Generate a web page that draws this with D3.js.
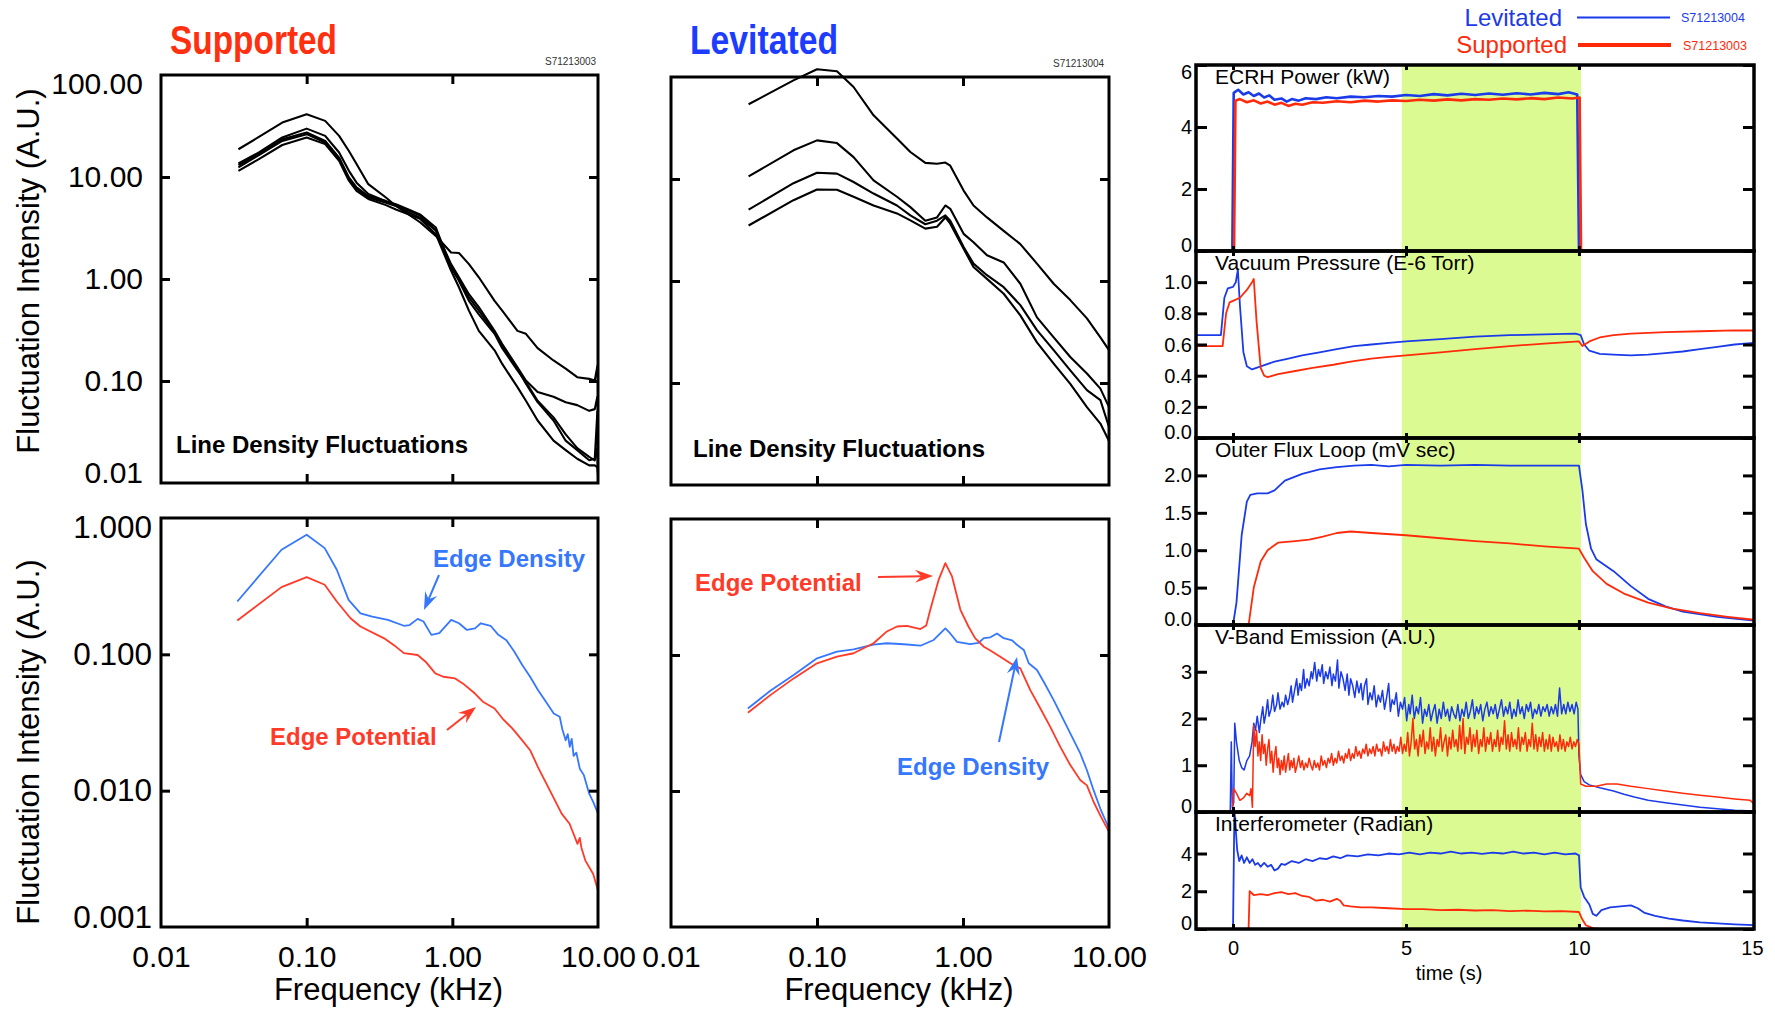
<!DOCTYPE html>
<html>
<head>
<meta charset="utf-8">
<script src="https://cdn.jsdelivr.net/npm/d3@7"></script>
<style>
  body { margin: 0; background: #fff; }
  svg { display: block; font-family: "Liberation Sans", Arial, Helvetica, sans-serif; }
</style>
</head>
<body>
<svg id="chart" width="1775" height="1011"></svg>
<script>
// ---------- line density spectra (kHz, A.U.) ----------
var freqSupported = [0.034, 0.047, 0.068, 0.1, 0.134, 0.167, 0.195, 0.22, 0.265, 0.35, 0.41, 0.5, 0.6, 0.77, 0.98,
                     1.11, 1.3, 1.52, 1.95, 2.2, 2.8, 3.2, 3.85, 4.95, 6.0, 7.2, 8.7, 9.5, 9.9, 10.0];
var densitySupported = [
    [18.7, 24.7, 34.2, 41.2, 35.5, 25.3, 18.0, 13.4, 8.5, 6.3, 5.2, 4.3, 3.6, 2.65, 1.82, 1.80, 1.40, 1.04, 0.61, 0.49, 0.31, 0.29, 0.21, 0.159, 0.132, 0.109, 0.105, 0.101, 0.14, 0.095],
    [13.6, 17.4, 24.4, 29.8, 25.3, 17.4, 11.5, 8.8, 6.8, 5.8, 5.3, 4.5, 4.0, 3.0, 1.40, 1.04, 0.71, 0.53, 0.31, 0.23, 0.136, 0.101, 0.078, 0.070, 0.062, 0.058, 0.051, 0.053, 0.07, 0.048],
    [13.1, 16.7, 23.5, 27.3, 22.6, 15.5, 9.9, 7.9, 6.5, 5.8, 5.4, 4.8, 4.3, 3.2, 1.30, 0.96, 0.61, 0.45, 0.29, 0.21, 0.127, 0.0975, 0.064, 0.044, 0.030, 0.022, 0.018, 0.0167, 0.022, 0.014],
    [12.4, 16.4, 22.6, 26.3, 21.8, 15.0, 9.5, 7.7, 6.3, 5.6, 5.2, 4.7, 4.2, 3.0, 1.35, 1.0, 0.66, 0.49, 0.30, 0.22, 0.132, 0.094, 0.062, 0.041, 0.026, 0.021, 0.0167, 0.0173, 0.05, 0.013],
    [11.5, 15.0, 20.6, 24.4, 21.0, 14.4, 9.2, 7.3, 6.1, 5.3, 4.8, 4.3, 3.9, 2.75, 1.21, 0.83, 0.49, 0.31, 0.20, 0.147, 0.087, 0.064, 0.041, 0.026, 0.021, 0.0173, 0.0149, 0.0149, 0.0143, 0.012]
];
var freqLevitated = [0.034, 0.069, 0.1, 0.137, 0.178, 0.244, 0.353, 0.436, 0.552, 0.664, 0.757, 0.818, 1.01, 1.18,
                     1.46, 1.9, 2.47, 3.21, 4.18, 5.43, 7.06, 8.73, 10.0];
var densityLevitated = [
    [54, 92.7, 119, 114, 79.8, 42.1, 24.9, 18.4, 14.4, 14.1, 14.5, 13.5, 7.7, 5.5, 4.2, 3.1, 2.3, 1.48, 0.94, 0.65, 0.43, 0.28, 0.21],
    [10.6, 19.1, 23.9, 22.5, 16.4, 9.7, 6.7, 5.3, 3.9, 4.2, 5.5, 5.1, 2.9, 2.4, 1.79, 1.52, 0.94, 0.44, 0.28, 0.18, 0.124, 0.088, 0.058],
    [5.0, 9.1, 11.5, 11.3, 9.35, 7.2, 5.5, 4.4, 3.6, 3.9, 4.4, 3.9, 2.15, 1.48, 1.14, 0.87, 0.58, 0.33, 0.21, 0.133, 0.085, 0.068, 0.037],
    [3.5, 6.2, 7.9, 7.85, 6.7, 5.5, 4.6, 3.93, 3.26, 3.4, 4.2, 3.65, 2.07, 1.37, 1.05, 0.75, 0.46, 0.25, 0.155, 0.098, 0.058, 0.040, 0.027]
];

// ---------- edge probe spectra [kHz, A.U.] ----------
var edgeDensitySupported = [[0.0334, 0.244], [0.0672, 0.585], [0.1, 0.754], [0.133, 0.601], [0.161, 0.417], [0.194, 0.251],
    [0.234, 0.200], [0.282, 0.189], [0.361, 0.179], [0.465, 0.162], [0.509, 0.164], [0.578, 0.182], [0.634, 0.174],
    [0.718, 0.139], [0.814, 0.143], [0.982, 0.179], [1.11, 0.169], [1.26, 0.151], [1.43, 0.155], [1.57, 0.169],
    [1.83, 0.162], [2.07, 0.139], [2.35, 0.127], [2.66, 0.105], [3.02, 0.0835], [3.42, 0.0685], [3.87, 0.0547],
    [4.39, 0.0449], [4.97, 0.0368], [5.46, 0.0348], [5.7, 0.028], [6.0, 0.0234], [6.2, 0.026], [6.4, 0.021],
    [6.6, 0.024], [6.8, 0.018], [7.1, 0.019], [7.5, 0.0145], [8.0, 0.013], [8.7, 0.0095], [9.3, 0.0082], [10.0, 0.0068]];
var edgePotentialSupported = [[0.0334, 0.177], [0.0672, 0.311], [0.1, 0.368], [0.133, 0.324], [0.161, 0.244], [0.2, 0.184],
    [0.234, 0.160], [0.34, 0.131], [0.409, 0.114], [0.465, 0.102], [0.578, 0.0989], [0.655, 0.0883], [0.764, 0.0725],
    [0.867, 0.0685], [1.045, 0.0666], [1.18, 0.0612], [1.43, 0.0516], [1.62, 0.0449], [1.95, 0.0401], [2.21, 0.0338],
    [2.58, 0.0286], [3.02, 0.0234], [3.42, 0.0198], [3.87, 0.0149], [4.67, 0.01005], [5.63, 0.00678], [6.38, 0.00572],
    [7.23, 0.00407], [7.5, 0.0045], [7.7, 0.0038], [8.19, 0.00307], [9.27, 0.00245], [10.0, 0.00185]];
var edgeDensityLevitated = [[0.0336, 0.0404], [0.0479, 0.0546], [0.0692, 0.0713], [0.1, 0.0945], [0.137, 0.106],
    [0.178, 0.110], [0.244, 0.119], [0.301, 0.122], [0.393, 0.120], [0.511, 0.117], [0.63, 0.129], [0.757, 0.157],
    [0.818, 0.144], [0.91, 0.125], [1.12, 0.120], [1.28, 0.123], [1.39, 0.133], [1.54, 0.135], [1.71, 0.144],
    [1.9, 0.133], [2.17, 0.128], [2.34, 0.119], [2.61, 0.109], [2.82, 0.0869], [3.21, 0.0775], [3.57, 0.0636],
    [4.18, 0.0466], [4.64, 0.0372], [5.43, 0.0265], [6.37, 0.0188], [7.06, 0.0142], [7.85, 0.0101], [8.73, 0.0074],
    [10.0, 0.0053]];
var edgePotentialLevitated = [[0.0336, 0.0376], [0.0479, 0.0507], [0.0692, 0.0673], [0.1, 0.0869], [0.137, 0.0972],
    [0.178, 0.103], [0.244, 0.122], [0.301, 0.149], [0.353, 0.162], [0.413, 0.164], [0.511, 0.155], [0.56, 0.165],
    [0.597, 0.215], [0.681, 0.357], [0.757, 0.474], [0.841, 0.378], [0.96, 0.215], [1.09, 0.162], [1.21, 0.133],
    [1.39, 0.115], [1.54, 0.108], [1.8, 0.0972], [2.11, 0.0869], [2.47, 0.0798], [2.89, 0.0552], [3.39, 0.0404],
    [3.96, 0.0296], [4.64, 0.0211], [5.43, 0.0155], [6.37, 0.0120], [7.06, 0.0110], [7.85, 0.0083], [8.73, 0.0066],
    [10.0, 0.0050]];

var freqTicks = [0.01, 0.1, 1, 10];
var densityTicks = [100, 10, 1, 0.1, 0.01];
var edgeTicks = [1, 0.1, 0.01, 0.001];

// ---------- time traces [s, value] ----------
var ecrhLevitated = [[-1.07, 0], [-0.02, 0], [0.02, 5.1], [0.15, 5.2], [0.3, 5.05], [0.45, 5.12], [0.6, 5.0], [0.75, 5.08],
    [0.9, 4.95], [1.05, 5.02], [1.2, 4.88], [1.4, 4.92], [1.55, 4.82], [1.7, 4.9], [1.9, 4.85], [2.1, 4.93], [2.4, 4.9],
    [2.7, 4.96], [3.0, 4.93], [3.4, 4.98], [3.8, 4.96], [4.2, 5.0], [4.6, 4.98], [5.0, 5.03], [5.4, 5.0], [5.8, 5.06],
    [6.2, 5.02], [6.6, 5.07], [7.0, 5.03], [7.4, 5.08], [7.8, 5.04], [8.2, 5.09], [8.6, 5.05], [9.0, 5.1], [9.4, 5.06],
    [9.7, 5.12], [9.95, 5.05], [10.0, 0.1], [10.02, 0], [15.06, 0]];
var ecrhSupported = [[-1.07, 0], [0.03, 0], [0.07, 4.85], [0.2, 4.9], [0.4, 4.8], [0.6, 4.86], [0.8, 4.76], [1.0, 4.82],
    [1.2, 4.72], [1.4, 4.78], [1.6, 4.68], [1.8, 4.75], [2.0, 4.72], [2.3, 4.8], [2.6, 4.78], [3.0, 4.83], [3.4, 4.8],
    [3.8, 4.85], [4.2, 4.82], [4.6, 4.86], [5.0, 4.84], [5.4, 4.88], [5.8, 4.85], [6.2, 4.89], [6.6, 4.86], [7.0, 4.9],
    [7.4, 4.88], [7.8, 4.92], [8.2, 4.89], [8.6, 4.93], [9.0, 4.9], [9.4, 4.95], [9.8, 4.92], [10.02, 4.95], [10.06, 0],
    [15.06, 0]];
var pressureLevitated = [[-1.07, 0.66], [-0.35, 0.66], [-0.25, 0.9], [-0.15, 0.96], [0, 0.97], [0.08, 1.0], [0.14, 1.08],
    [0.2, 0.85], [0.3, 0.55], [0.4, 0.46], [0.55, 0.44], [0.8, 0.46], [1.2, 0.49], [1.6, 0.51], [2.0, 0.53], [2.5, 0.55],
    [3.0, 0.57], [3.5, 0.59], [4.0, 0.60], [4.5, 0.61], [5.0, 0.62], [6.0, 0.635], [7.0, 0.65], [8.0, 0.66], [9.0, 0.665],
    [9.9, 0.67], [10.05, 0.66], [10.15, 0.6], [10.3, 0.56], [10.6, 0.54], [11.0, 0.535], [11.5, 0.53], [12.0, 0.535],
    [12.5, 0.545], [13.0, 0.555], [13.5, 0.57], [14.0, 0.585], [14.5, 0.6], [15.06, 0.61]];
var pressureSupported = [[-1.07, 0.59], [-0.3, 0.59], [-0.2, 0.8], [-0.1, 0.87], [0, 0.88], [0.2, 0.9], [0.4, 0.95],
    [0.55, 1.0], [0.6, 1.02], [0.68, 0.75], [0.8, 0.45], [0.9, 0.4], [1.0, 0.39], [1.3, 0.41], [1.8, 0.43], [2.3, 0.45],
    [2.9, 0.47], [3.4, 0.49], [4.0, 0.51], [4.5, 0.52], [5.0, 0.53], [6.0, 0.55], [7.0, 0.57], [8.0, 0.59], [9.0, 0.605],
    [10.0, 0.62], [10.1, 0.59], [10.3, 0.62], [10.6, 0.645], [11.0, 0.66], [11.5, 0.67], [12.5, 0.68], [13.5, 0.685],
    [14.5, 0.69], [15.06, 0.69]];
var fluxLevitated = [[-1.07, 0], [0, 0], [0.1, 0.3], [0.25, 1.2], [0.4, 1.65], [0.5, 1.74], [0.7, 1.76], [1.0, 1.76],
    [1.2, 1.8], [1.5, 1.93], [2.0, 2.02], [2.5, 2.08], [3.0, 2.11], [3.5, 2.13], [4.0, 2.14], [4.5, 2.12], [5.0, 2.14],
    [6.0, 2.13], [7.0, 2.14], [8.0, 2.13], [9.0, 2.13], [10.0, 2.13], [10.1, 1.8], [10.2, 1.35], [10.35, 1.02], [10.5, 0.88],
    [11.0, 0.72], [11.5, 0.52], [12.0, 0.35], [12.5, 0.25], [13.0, 0.18], [14.0, 0.11], [15.06, 0.06]];
var fluxSupported = [[-1.07, 0], [0.45, 0], [0.6, 0.5], [0.8, 0.85], [1.0, 1.0], [1.3, 1.1], [1.8, 1.12], [2.2, 1.14],
    [2.6, 1.18], [3.0, 1.23], [3.4, 1.25], [4.0, 1.23], [5.0, 1.2], [6.0, 1.16], [7.0, 1.12], [8.0, 1.09], [9.0, 1.05],
    [10.0, 1.02], [10.15, 0.9], [10.4, 0.72], [10.8, 0.55], [11.3, 0.42], [12.0, 0.3], [12.7, 0.22], [13.5, 0.16],
    [14.3, 0.11], [15.06, 0.07]];
var vbandLevitated = [[-1.07, 0], [-0.08, 0], [-0.05, 1.5], [-0.02, 0.1], [0.02, 0.2], [0.05, 1.9], [0.1, 1.5], [0.18, 1.1],
    [0.25, 0.95], [0.32, 0.9], [0.4, 1.1], [0.48, 1.2], [0.55, 1.5], [0.6, 1.9], [0.65, 1.75], [0.7, 2.05], [0.76, 1.7],
    [0.8, 1.95], [0.86, 2.25], [0.9, 1.9], [0.95, 2.1], [1.0, 2.4], [1.04, 2.05], [1.1, 2.2], [1.15, 2.5], [1.2, 2.15],
    [1.26, 2.3], [1.3, 2.55], [1.36, 2.2], [1.42, 2.35], [1.47, 2.25], [1.52, 2.5], [1.58, 2.3], [1.63, 2.45], [1.68, 2.7],
    [1.72, 2.35], [1.78, 2.6], [1.84, 2.85], [1.88, 2.5], [1.93, 2.75], [1.98, 2.6], [2.04, 3.05], [2.08, 2.65], [2.14, 2.85],
    [2.2, 2.7], [2.26, 3.0], [2.3, 2.85], [2.36, 3.2], [2.42, 2.8], [2.47, 3.05], [2.52, 2.9], [2.58, 3.15], [2.62, 2.75],
    [2.68, 3.0], [2.74, 2.85], [2.8, 3.1], [2.86, 2.7], [2.9, 2.95], [2.96, 2.8], [3.02, 3.25], [3.06, 2.65], [3.12, 3.0],
    [3.18, 2.85], [3.24, 2.6], [3.3, 2.95], [3.35, 2.5], [3.4, 2.85], [3.46, 2.7], [3.52, 2.45], [3.58, 2.8], [3.64, 2.55],
    [3.7, 2.75], [3.75, 2.4], [3.8, 2.7], [3.86, 2.85], [3.9, 2.3], [3.96, 2.55], [4.02, 2.4], [4.08, 2.7], [4.14, 2.25],
    [4.2, 2.5], [4.26, 2.35], [4.32, 2.6], [4.38, 2.2], [4.44, 2.45], [4.5, 2.75], [4.55, 2.15], [4.6, 2.4], [4.66, 2.3],
    [4.72, 2.55], [4.78, 2.05], [4.84, 2.35], [4.9, 2.2], [4.96, 2.45], [5.02, 1.95], [5.08, 2.3], [5.12, 2.1], [5.18, 2.5],
    [5.24, 2.0], [5.3, 2.25], [5.36, 2.1], [5.42, 2.45], [5.48, 1.9], [5.54, 2.2], [5.6, 2.05], [5.66, 2.3], [5.72, 1.95],
    [5.78, 2.15], [5.84, 2.3], [5.9, 1.9], [5.96, 2.2], [6.02, 2.0], [6.08, 2.35], [6.14, 2.05], [6.2, 2.2], [6.26, 1.95],
    [6.32, 2.25], [6.38, 2.1], [6.44, 2.0], [6.5, 2.3], [6.56, 1.95], [6.62, 2.2], [6.68, 2.05], [6.74, 2.35], [6.8, 2.0],
    [6.86, 2.15], [6.92, 2.4], [6.98, 2.0], [7.04, 2.25], [7.1, 2.1], [7.16, 2.3], [7.22, 1.95], [7.28, 2.2], [7.34, 2.35],
    [7.4, 2.05], [7.46, 2.25], [7.52, 2.1], [7.58, 2.3], [7.64, 2.0], [7.7, 2.2], [7.76, 2.4], [7.82, 2.05], [7.88, 2.25],
    [7.94, 2.1], [8.0, 2.35], [8.06, 2.0], [8.12, 2.2], [8.18, 2.05], [8.24, 2.4], [8.3, 2.1], [8.36, 2.25], [8.42, 2.0],
    [8.48, 2.3], [8.54, 2.15], [8.6, 2.35], [8.66, 2.0], [8.72, 2.2], [8.78, 2.1], [8.84, 2.3], [8.9, 2.05], [8.96, 2.25],
    [9.02, 2.15], [9.08, 2.3], [9.14, 2.05], [9.2, 2.25], [9.26, 2.1], [9.32, 2.3], [9.38, 2.05], [9.44, 2.65], [9.5, 2.1],
    [9.56, 2.3], [9.62, 2.1], [9.68, 2.35], [9.74, 2.15], [9.8, 2.3], [9.86, 2.1], [9.92, 2.35], [9.97, 2.2], [10.0, 1.2],
    [10.05, 0.8], [10.15, 0.65], [10.3, 0.58], [10.6, 0.52], [11.0, 0.45], [11.3, 0.38], [11.6, 0.32], [12.0, 0.25],
    [12.5, 0.2], [13.0, 0.15], [13.5, 0.1], [14.0, 0.07], [14.5, 0.04], [15.06, 0.02]];
var vbandSupported = [[-1.07, 0], [-0.02, 0], [0.02, 0.5], [0.1, 0.4], [0.2, 0.25], [0.3, 0.3], [0.4, 0.4], [0.48, 0.35],
    [0.52, 0.5], [0.56, 0.1], [0.6, 1.85], [0.64, 1.4], [0.68, 1.75], [0.72, 1.2], [0.76, 1.5], [0.8, 1.1], [0.84, 1.65],
    [0.88, 1.25], [0.92, 1.45], [0.96, 1.0], [1.0, 1.35], [1.04, 1.55], [1.08, 1.05], [1.12, 1.3], [1.16, 0.85], [1.2, 1.2],
    [1.24, 1.4], [1.28, 0.95], [1.32, 1.15], [1.36, 0.8], [1.4, 1.1], [1.44, 0.9], [1.48, 1.2], [1.52, 0.85], [1.56, 1.05],
    [1.6, 1.25], [1.64, 0.9], [1.68, 1.1], [1.72, 0.95], [1.76, 1.15], [1.8, 0.85], [1.85, 1.0], [1.9, 1.2], [1.95, 0.95],
    [2.0, 1.1], [2.05, 0.9], [2.1, 1.05], [2.15, 0.95], [2.2, 1.15], [2.25, 1.0], [2.3, 0.9], [2.35, 1.1], [2.4, 0.95],
    [2.45, 1.05], [2.5, 0.9], [2.55, 1.2], [2.6, 1.0], [2.65, 1.1], [2.7, 0.95], [2.75, 1.15], [2.8, 1.05], [2.85, 1.25],
    [2.9, 1.0], [2.95, 1.15], [3.0, 1.05], [3.05, 1.3], [3.1, 1.1], [3.15, 1.2], [3.2, 1.05], [3.25, 1.25], [3.3, 1.15],
    [3.35, 1.35], [3.4, 1.1], [3.45, 1.25], [3.5, 1.15], [3.55, 1.4], [3.6, 1.2], [3.65, 1.3], [3.7, 1.15], [3.75, 1.35],
    [3.8, 1.25], [3.85, 1.45], [3.9, 1.2], [3.95, 1.35], [4.0, 1.25], [4.05, 1.4], [4.1, 1.2], [4.15, 1.45], [4.2, 1.3],
    [4.25, 1.35], [4.3, 1.2], [4.35, 1.5], [4.4, 1.3], [4.45, 1.4], [4.5, 1.25], [4.55, 1.55], [4.6, 1.3], [4.65, 1.45],
    [4.7, 1.25], [4.75, 1.4], [4.8, 1.3], [4.85, 1.6], [4.9, 1.25], [4.95, 1.45], [5.0, 1.3], [5.05, 1.7], [5.1, 1.2],
    [5.15, 1.5], [5.2, 2.0], [5.25, 1.35], [5.3, 1.55], [5.35, 1.2], [5.4, 1.65], [5.45, 1.4], [5.5, 1.75], [5.55, 1.25],
    [5.6, 1.5], [5.65, 1.35], [5.7, 1.8], [5.75, 1.3], [5.8, 1.6], [5.85, 1.2], [5.9, 1.55], [5.95, 1.4], [6.0, 1.8],
    [6.05, 1.3], [6.1, 1.5], [6.15, 1.65], [6.2, 1.2], [6.25, 1.6], [6.3, 1.35], [6.35, 1.75], [6.4, 1.4], [6.45, 1.55],
    [6.5, 1.3], [6.55, 1.85], [6.6, 1.35], [6.65, 2.0], [6.7, 1.25], [6.75, 1.6], [6.8, 1.45], [6.85, 1.8], [6.9, 1.3],
    [6.95, 1.65], [7.0, 1.4], [7.05, 1.75], [7.1, 1.25], [7.15, 1.55], [7.2, 1.4], [7.25, 1.8], [7.3, 1.3], [7.35, 1.6],
    [7.4, 1.45], [7.45, 1.7], [7.5, 1.3], [7.55, 1.55], [7.6, 1.4], [7.65, 1.75], [7.7, 1.3], [7.75, 1.6], [7.8, 1.45],
    [7.85, 1.95], [7.9, 1.35], [7.95, 1.65], [8.0, 1.3], [8.05, 1.7], [8.1, 1.4], [8.15, 1.55], [8.2, 1.35], [8.25, 1.8],
    [8.3, 1.3], [8.35, 1.6], [8.4, 1.45], [8.45, 1.7], [8.5, 1.3], [8.55, 1.55], [8.6, 1.4], [8.65, 1.9], [8.7, 1.35],
    [8.75, 1.65], [8.8, 1.3], [8.85, 1.6], [8.9, 1.4], [8.95, 1.7], [9.0, 1.3], [9.05, 1.55], [9.1, 1.35], [9.15, 1.65],
    [9.2, 1.3], [9.25, 1.6], [9.3, 1.4], [9.35, 1.5], [9.4, 1.3], [9.45, 1.65], [9.5, 1.35], [9.55, 1.55], [9.6, 1.3],
    [9.65, 1.5], [9.7, 1.4], [9.75, 1.6], [9.8, 1.35], [9.85, 1.5], [9.9, 1.4], [9.95, 1.55], [10.0, 1.45], [10.05, 0.6],
    [10.2, 0.55], [10.5, 0.55], [10.8, 0.6], [11.1, 0.6], [11.5, 0.55], [12.0, 0.5], [12.5, 0.45], [13.0, 0.4], [13.5, 0.36],
    [14.0, 0.32], [14.5, 0.28], [14.95, 0.25], [15.06, 0.18]];
var interfLevitated = [[-1.07, 0], [0.0, 0], [0.04, 6.3], [0.12, 4.2], [0.18, 3.6], [0.25, 3.9], [0.32, 3.5], [0.4, 3.8],
    [0.48, 3.5], [0.56, 3.7], [0.64, 3.4], [0.72, 3.5], [0.8, 3.3], [0.9, 3.5], [1.0, 3.3], [1.1, 3.4], [1.2, 3.1], [1.3, 3.2],
    [1.4, 3.45], [1.5, 3.4], [1.7, 3.6], [1.9, 3.5], [2.1, 3.7], [2.3, 3.6], [2.5, 3.75], [2.7, 3.7], [2.9, 3.85], [3.1, 3.75],
    [3.3, 3.9], [3.6, 3.85], [3.9, 3.95], [4.2, 3.9], [4.5, 4.0], [4.8, 3.95], [5.1, 4.05], [5.4, 3.95], [5.7, 4.05], [6.0, 4.0],
    [6.3, 4.1], [6.6, 4.0], [6.9, 4.05], [7.2, 3.98], [7.5, 4.05], [7.8, 4.0], [8.1, 4.1], [8.4, 4.0], [8.7, 4.05], [9.0, 3.95],
    [9.3, 4.05], [9.6, 3.95], [9.9, 4.0], [10.0, 3.9], [10.05, 2.2], [10.15, 1.7], [10.3, 1.3], [10.4, 0.8], [10.5, 0.7],
    [10.65, 1.0], [10.9, 1.15], [11.2, 1.2], [11.5, 1.25], [11.7, 1.1], [11.9, 0.85], [12.2, 0.7], [12.6, 0.55], [13.0, 0.45],
    [13.5, 0.35], [14.0, 0.3], [14.5, 0.25], [15.06, 0.2]];
var interfSupported = [[-1.07, 0], [0.45, 0], [0.48, 2.0], [0.6, 1.8], [0.8, 1.85], [1.0, 1.8], [1.2, 1.9], [1.4, 1.95],
    [1.6, 1.85], [1.8, 1.9], [2.0, 1.75], [2.2, 1.7], [2.4, 1.5], [2.6, 1.55], [2.8, 1.45], [3.0, 1.6], [3.1, 1.5], [3.2, 1.25],
    [3.4, 1.2], [3.7, 1.15], [4.0, 1.15], [4.5, 1.1], [5.0, 1.05], [5.5, 1.05], [6.0, 1.0], [6.5, 1.02], [7.0, 0.98], [7.5, 1.0],
    [8.0, 0.95], [8.5, 0.97], [9.0, 0.93], [9.5, 0.95], [10.0, 0.9], [10.1, 0.5], [10.2, 0.2], [10.4, 0.05], [10.6, 0], [15.06, 0]];

var traceTitles = ['ECRH Power (kW)', 'Vacuum Pressure (E-6 Torr)', 'Outer Flux Loop (mV sec)', 'V-Band Emission (A.U.)', 'Interferometer (Radian)'];
var traceMax = [6, 1.2, 2.5, 4, 6.2];
var traceTicks = [[0, 2, 4, 6], [0, 0.2, 0.4, 0.6, 0.8, 1.0], [0, 0.5, 1.0, 1.5, 2.0], [0, 1, 2, 3], [0, 2, 4]];
var traceFormats = ['d', '.1f', '.1f', 'd', 'd'];
var traceWidths = [2.6, 1.8, 1.8, 1.5, 1.8];
var timeTicks = [0, 5, 10, 15];
var flatTop = [4.88, 10.06];

var BLACK = '#000', RED = '#ff2a0a', BLUE = '#1b3be8';
var EDGE_RED = '#ff3a28', EDGE_BLUE = '#3577ff';

var svg = d3.select('#chart');

function styleTicks(g, width) {
    g.select('.domain').remove();
    g.selectAll('.tick line').attr('stroke', BLACK).attr('stroke-width', width);
}

function drawSpectrum(p) {
    var x = d3.scaleLog().domain([0.01, 10]).range([p.left, p.right]);
    var y = d3.scaleLog().domain([p.yTicks[p.yTicks.length - 1], p.yTicks[0]]).range([p.bottom, p.top]);
    var g = svg.append('g');
    var line = d3.line()
        .x(function(d) { return x(d[0]); })
        .y(function(d) { return y(d[1]); });

    p.series.forEach(function(s) {
        g.append('path')
            .datum(s.points)
            .attr('d', line)
            .attr('fill', 'none')
            .attr('stroke', s.color)
            .attr('stroke-width', s.width)
            .attr('stroke-linejoin', 'round');
    });

    g.append('rect')
        .attr('x', p.left).attr('y', p.top)
        .attr('width', p.right - p.left).attr('height', p.bottom - p.top)
        .attr('fill', 'none').attr('stroke', BLACK).attr('stroke-width', 3);

    // inward ticks on all four sides
    var innerY = p.yTicks.slice(1, -1);
    var innerX = [0.1, 1];
    g.append('g').attr('transform', 'translate(' + p.left + ',0)')
        .call(d3.axisLeft(y).tickValues(innerY).tickSize(-9).tickFormat('')).call(styleTicks, 3);
    g.append('g').attr('transform', 'translate(' + p.right + ',0)')
        .call(d3.axisRight(y).tickValues(innerY).tickSize(-9).tickFormat('')).call(styleTicks, 3);
    g.append('g').attr('transform', 'translate(0,' + p.top + ')')
        .call(d3.axisTop(x).tickValues(innerX).tickSize(-9).tickFormat('')).call(styleTicks, 3);
    g.append('g').attr('transform', 'translate(0,' + p.bottom + ')')
        .call(d3.axisBottom(x).tickValues(innerX).tickSize(-9).tickFormat('')).call(styleTicks, 3);

    if (p.yFormat) {
        var ya = g.append('g').attr('transform', 'translate(' + p.left + ',0)')
            .call(d3.axisLeft(y).tickValues(p.yTicks).tickSize(0).tickPadding(p.yPad).tickFormat(d3.format(p.yFormat)));
        ya.select('.domain').remove();
        ya.attr('font-size', p.yFont).attr('font-family', null);
        ya.selectAll('.tick text').attr('fill', BLACK)
            .attr('y', function(d, i) { return i === 0 ? 9 : (i === p.yTicks.length - 1 ? -10 : 0); });
        g.append('text')
            .attr('transform', 'translate(28,' + p.labelY + ') rotate(-90)')
            .attr('text-anchor', 'middle').attr('dominant-baseline', 'central')
            .attr('font-size', 31)
            .text('Fluctuation Intensity (A.U.)');
    }
    if (p.xLabels) {
        var xa = g.append('g').attr('transform', 'translate(0,' + p.bottom + ')')
            .call(d3.axisBottom(x).tickValues(freqTicks).tickSize(0).tickPadding(19).tickFormat(d3.format('.2f')));
        xa.select('.domain').remove();
        xa.attr('font-size', 30).attr('font-family', null);
        xa.selectAll('.tick text').attr('fill', BLACK);
        g.append('text')
            .attr('x', (p.left + p.right) / 2 + 9).attr('y', 1000)
            .attr('text-anchor', 'middle').attr('font-size', 31)
            .text('Frequency (kHz)');
    }
    return { x: x, y: y, g: g };
}

function arrow(g, x1, y1, x2, y2, color) {
    var a = Math.atan2(y2 - y1, x2 - x1), c = Math.cos(a), s = Math.sin(a);
    var L = 18, W = 6.5;
    g.append('line')
        .attr('x1', x1).attr('y1', y1).attr('x2', x2 - c * L * 0.6).attr('y2', y2 - s * L * 0.6)
        .attr('stroke', color).attr('stroke-width', 2);
    var pts = [[x2, y2], [x2 - c * L - s * W, y2 - s * L + c * W], [x2 - c * L * 0.65, y2 - s * L * 0.65], [x2 - c * L + s * W, y2 - s * L - c * W]];
    g.append('polygon').attr('points', pts.map(function(q) { return q.join(','); }).join(' ')).attr('fill', color);
}

function boldLabel(g, x, y, txt, color, size) {
    return g.append('text').attr('x', x).attr('y', y)
        .attr('font-size', size).attr('font-weight', 'bold').attr('fill', color).text(txt);
}

// ---------- spectra panels ----------
var panelA = drawSpectrum({
    left: 161, right: 598, top: 75, bottom: 483, yTicks: densityTicks, yFormat: '.2f', yFont: 30, yPad: 18, labelY: 271,
    series: densitySupported.map(function(v) { return { points: d3.zip(freqSupported, v), color: BLACK, width: 2.1 }; })
});
var panelB = drawSpectrum({
    left: 671, right: 1109, top: 77, bottom: 485, yTicks: densityTicks,
    series: densityLevitated.map(function(v) { return { points: d3.zip(freqLevitated, v), color: BLACK, width: 2.1 }; })
});
var panelC = drawSpectrum({
    left: 161, right: 598, top: 518, bottom: 927, yTicks: edgeTicks, yFormat: '.3f', yFont: 31.5, yPad: 9, labelY: 742, xLabels: true,
    series: [{ points: edgeDensitySupported, color: EDGE_BLUE, width: 1.8 }, { points: edgePotentialSupported, color: EDGE_RED, width: 1.8 }]
});
var panelD = drawSpectrum({
    left: 671, right: 1109, top: 519, bottom: 927, yTicks: edgeTicks, xLabels: true,
    series: [{ points: edgeDensityLevitated, color: EDGE_BLUE, width: 1.8 }, { points: edgePotentialLevitated, color: EDGE_RED, width: 1.8 }]
});

// titles and annotations
boldLabel(svg, 170, 54, 'Supported', '#ff3010', 40).attr('textLength', 167).attr('lengthAdjust', 'spacingAndGlyphs');
boldLabel(svg, 690, 54, 'Levitated', '#1c3cff', 40).attr('textLength', 148).attr('lengthAdjust', 'spacingAndGlyphs');
svg.append('text').attr('x', 545).attr('y', 65).attr('font-size', 10).attr('fill', '#333').text('S71213003');
svg.append('text').attr('x', 1053).attr('y', 67).attr('font-size', 10).attr('fill', '#333').text('S71213004');
boldLabel(svg, 176, 453, 'Line Density Fluctuations', BLACK, 24);
boldLabel(svg, 693, 457, 'Line Density Fluctuations', BLACK, 24);

boldLabel(svg, 433, 567, 'Edge Density', EDGE_BLUE, 24);
arrow(svg, 439, 575, 424, 610, EDGE_BLUE);
boldLabel(svg, 270, 745, 'Edge Potential', EDGE_RED, 24);
arrow(svg, 447, 730, 476, 707, EDGE_RED);
boldLabel(svg, 695, 591, 'Edge Potential', EDGE_RED, 24);
arrow(svg, 878, 577, 933, 576, EDGE_RED);
boldLabel(svg, 897, 775, 'Edge Density', EDGE_BLUE, 24);
arrow(svg, 999, 742, 1017, 657, EDGE_BLUE);

// ---------- time traces ----------
var tLeft = 1196, tRight = 1754;
var bounds = [65, 251, 438, 625, 812, 929];
var xT = d3.scaleLinear().domain([-1.07, 15.06]).range([tLeft, tRight]);
var traceData = [
    [ecrhLevitated, ecrhSupported],
    [pressureLevitated, pressureSupported],
    [fluxLevitated, fluxSupported],
    [vbandLevitated, vbandSupported],
    [interfLevitated, interfSupported]
];

var traces = svg.append('g');
traces.append('rect')
    .attr('x', xT(flatTop[0])).attr('y', bounds[0])
    .attr('width', xT(flatTop[1]) - xT(flatTop[0])).attr('height', bounds[5] - bounds[0])
    .attr('fill', '#dcfa92');

var defs = svg.append('defs');
traceData.forEach(function(pair, i) {
    var top = bounds[i], bottom = bounds[i + 1];
    var y = d3.scaleLinear().domain([0, traceMax[i]]).range([bottom, top]);
    var line = d3.line().x(function(d) { return xT(d[0]); }).y(function(d) { return y(d[1]); });

    defs.append('clipPath').attr('id', 'clip' + i)
        .append('rect').attr('x', tLeft).attr('y', top).attr('width', tRight - tLeft).attr('height', bottom - top);

    var pg = traces.append('g').attr('clip-path', 'url(#clip' + i + ')');
    pg.append('path').datum(pair[0]).attr('d', line)
        .attr('fill', 'none').attr('stroke', BLUE).attr('stroke-width', traceWidths[i]).attr('stroke-linejoin', 'round');
    pg.append('path').datum(pair[1]).attr('d', line)
        .attr('fill', 'none').attr('stroke', RED).attr('stroke-width', traceWidths[i]).attr('stroke-linejoin', 'round');

    traces.append('rect')
        .attr('x', tLeft).attr('y', top).attr('width', tRight - tLeft).attr('height', bottom - top)
        .attr('fill', 'none').attr('stroke', BLACK).attr('stroke-width', 3.5);

    traces.append('g').attr('transform', 'translate(' + tLeft + ',0)')
        .call(d3.axisLeft(y).tickValues(traceTicks[i]).tickSize(-11).tickFormat('')).call(styleTicks, 3);
    traces.append('g').attr('transform', 'translate(' + tRight + ',0)')
        .call(d3.axisRight(y).tickValues(traceTicks[i]).tickSize(-11).tickFormat('')).call(styleTicks, 3);
    traces.append('g').attr('transform', 'translate(0,' + top + ')')
        .call(d3.axisTop(xT).tickValues([0, 5, 10]).tickSize(-5).tickFormat('')).call(styleTicks, 3);
    traces.append('g').attr('transform', 'translate(0,' + bottom + ')')
        .call(d3.axisBottom(xT).tickValues([0, 5, 10]).tickSize(-5).tickFormat('')).call(styleTicks, 3);

    var fmt = d3.format(traceFormats[i]);
    traces.selectAll(null).data(traceTicks[i]).enter().append('text')
        .attr('x', tLeft - 4)
        .attr('y', function(d) { return Math.max(top + 7, Math.min(bottom - 6, y(d))); })
        .attr('text-anchor', 'end').attr('dominant-baseline', 'central')
        .attr('font-size', 20)
        .text(function(d) { return fmt(d); });

    traces.append('text')
        .attr('x', 1215).attr('y', top + 19)
        .attr('font-size', 21)
        .text(traceTitles[i]);
});

var xa = traces.append('g').attr('transform', 'translate(0,' + bounds[5] + ')')
    .call(d3.axisBottom(xT).tickValues(timeTicks).tickSize(0).tickPadding(12).tickFormat(d3.format('d')));
xa.select('.domain').remove();
xa.attr('font-size', 20).attr('font-family', null);
xa.selectAll('.tick text').attr('fill', BLACK);
traces.append('text').attr('x', 1449).attr('y', 980).attr('text-anchor', 'middle').attr('font-size', 20).text('time (s)');

// legend
var legend = svg.append('g');
legend.append('text').attr('x', 1562).attr('y', 26).attr('text-anchor', 'end').attr('font-size', 24).attr('fill', BLUE).text('Levitated');
legend.append('line').attr('x1', 1577).attr('x2', 1670).attr('y1', 17.5).attr('y2', 17.5).attr('stroke', BLUE).attr('stroke-width', 2);
legend.append('text').attr('x', 1681).attr('y', 22).attr('font-size', 12.5).attr('fill', BLUE).text('S71213004');
legend.append('text').attr('x', 1567).attr('y', 53).attr('text-anchor', 'end').attr('font-size', 24).attr('fill', RED).text('Supported');
legend.append('line').attr('x1', 1578).attr('x2', 1671).attr('y1', 45).attr('y2', 45).attr('stroke', RED).attr('stroke-width', 4);
legend.append('text').attr('x', 1683).attr('y', 50).attr('font-size', 12.5).attr('fill', RED).text('S71213003');
</script>
</body>
</html>
